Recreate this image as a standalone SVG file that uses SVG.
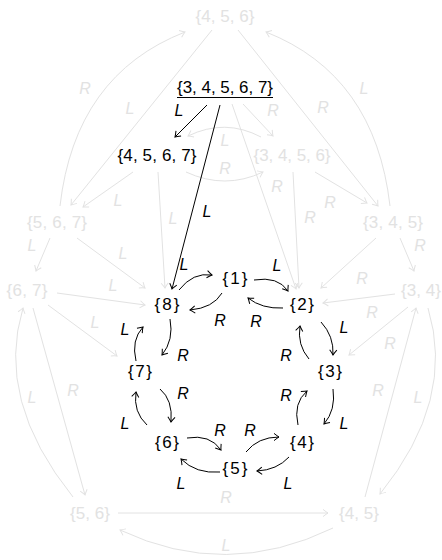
<svg xmlns="http://www.w3.org/2000/svg" width="442" height="560" viewBox="0 0 442 560">
<defs>
<marker id="ab" viewBox="-6 -5 8 10" refX="0" refY="0" markerWidth="8" markerHeight="10" markerUnits="userSpaceOnUse" orient="auto">
<path d="M-5,-3.6 Q-1.5,-0.8 0,0 Q-1.5,0.8 -5,3.6" fill="none" stroke="#000" stroke-width="1"/>
</marker>
<marker id="ag" viewBox="-6 -5 8 10" refX="0" refY="0" markerWidth="8" markerHeight="10" markerUnits="userSpaceOnUse" orient="auto">
<path d="M-5,-3.6 Q-1.5,-0.8 0,0 Q-1.5,0.8 -5,3.6" fill="none" stroke="#e2e2e2" stroke-width="1"/>
</marker>
</defs>
<style>
.n{font-family:"Liberation Sans",Arial,sans-serif;font-size:17px;text-anchor:middle;fill:#000}
.ng{font-family:"Liberation Sans",Arial,sans-serif;font-size:17px;text-anchor:middle;fill:#e2e2e2}
.l{font-family:"Liberation Sans",Arial,sans-serif;font-size:16px;font-style:italic;text-anchor:middle;fill:#000}
.lg{font-family:"Liberation Sans",Arial,sans-serif;font-size:16px;font-style:italic;text-anchor:middle;fill:#e2e2e2}
.e{fill:none;stroke:#000;stroke-width:1;marker-end:url(#ab)}
.eg{fill:none;stroke:#e2e2e2;stroke-width:1;marker-end:url(#ag)}
</style>
<rect width="442" height="560" fill="#fff"/>
<g id="connectors">
<path class="eg" d="M60,206 Q75,75 185,32"/>
<path class="eg" d="M212,30 L71,205"/>
<path class="eg" d="M238,30 L378,206"/>
<path class="eg" d="M390,206 Q375,75 266,32"/>
<path class="eg" d="M243,104 L273,136"/>
<path class="eg" d="M232,104 L296,289"/>
<path class="eg" d="M261,137 Q225,118 188,136"/>
<path class="eg" d="M186,172 Q225,190 263,172"/>
<path class="eg" d="M158,172 L165,288"/>
<path class="eg" d="M293,172 L299,288"/>
<path class="eg" d="M133,172 L83,207"/>
<path class="eg" d="M315,172 L367,203"/>
<path class="eg" d="M50,238 L36,271"/>
<path class="eg" d="M400,238 L414,271"/>
<path class="eg" d="M77,238 L145,288"/>
<path class="eg" d="M376,238 L321,288"/>
<path class="eg" d="M57,293 L145,305"/>
<path class="eg" d="M395,294 L323,303"/>
<path class="eg" d="M48,305 L117,356"/>
<path class="eg" d="M408,307 L349,355"/>
<path class="eg" d="M33,308 L85,495"/>
<path class="eg" d="M73,497 Q-5,400 23,308"/>
<path class="eg" d="M118,513 L328,513"/>
<path class="eg" d="M333,528 Q226,580 120,530"/>
<path class="eg" d="M428,308 Q456,400 380,494"/>
<path class="eg" d="M365,497 L416,308"/>
<path class="e" d="M207,105 L175,137"/>
<path class="e" d="M220,105 L172,289"/>
<path class="e" d="M179,290 Q193,272 212,275"/>
<path class="e" d="M222,293 Q213,308 190,310"/>
<path class="e" d="M254,280 Q278,276 288,291"/>
<path class="e" d="M283,308 Q262,309 248,298"/>
<path class="e" d="M170,319 Q174,340 162,355"/>
<path class="e" d="M136,361 Q131,340 143,327"/>
<path class="e" d="M321,322 Q334,336 333,355"/>
<path class="e" d="M309,359 Q297,345 300,326"/>
<path class="e" d="M160,389 Q173,400 171,422"/>
<path class="e" d="M147,425 Q133,412 136,392"/>
<path class="e" d="M187,438 Q210,434 221,450"/>
<path class="e" d="M220,472 Q196,474 181,459"/>
<path class="e" d="M246,452 Q258,437 279,437"/>
<path class="e" d="M289,457 Q277,470 257,471"/>
<path class="e" d="M298,425 Q293,403 307,391"/>
<path class="e" d="M333,389 Q336,410 324,424"/>
</g>
<g id="edge-labels">
<text class="lg" x="85" y="94">R</text>
<text class="lg" x="130" y="114">L</text>
<text class="lg" x="364" y="94">L</text>
<text class="lg" x="323" y="113">R</text>
<text class="lg" x="273" y="116">R</text>
<text class="lg" x="225" y="146">L</text>
<text class="lg" x="225" y="174">R</text>
<text class="lg" x="118" y="206">L</text>
<text class="lg" x="173" y="224">L</text>
<text class="lg" x="277" y="192">R</text>
<text class="lg" x="330" y="208">R</text>
<text class="lg" x="310" y="223">R</text>
<text class="lg" x="32" y="251">L</text>
<text class="lg" x="123" y="259">L</text>
<text class="lg" x="420" y="251">R</text>
<text class="lg" x="362" y="284">R</text>
<text class="lg" x="113" y="291">L</text>
<text class="lg" x="372" y="318">R</text>
<text class="lg" x="95" y="328">L</text>
<text class="lg" x="390" y="349">R</text>
<text class="lg" x="73" y="396">R</text>
<text class="lg" x="32" y="403">L</text>
<text class="lg" x="378" y="396">R</text>
<text class="lg" x="418" y="403">L</text>
<text class="lg" x="226" y="503">R</text>
<text class="lg" x="226" y="551">L</text>
<text class="l" x="179" y="116">L</text>
<text class="l" x="207" y="217">L</text>
<text class="l" x="184" y="270">L</text>
<text class="l" x="220" y="326">R</text>
<text class="l" x="277" y="271">L</text>
<text class="l" x="256" y="327">R</text>
<text class="l" x="183" y="361">R</text>
<text class="l" x="125" y="335">L</text>
<text class="l" x="344" y="333">L</text>
<text class="l" x="286" y="361">R</text>
<text class="l" x="183" y="399">R</text>
<text class="l" x="125" y="429">L</text>
<text class="l" x="220" y="436">R</text>
<text class="l" x="181" y="489">L</text>
<text class="l" x="250" y="436">R</text>
<text class="l" x="288" y="489">L</text>
<text class="l" x="286" y="401">R</text>
<text class="l" x="344" y="429">L</text>
</g>
<g id="n34567"><text class="n" x="225" y="93" textLength="96" lengthAdjust="spacingAndGlyphs">{3, 4, 5, 6, 7}</text><line x1="177" y1="97.5" x2="273" y2="97.5" stroke="#000" stroke-width="1"/></g>
<g id="n4567"><text class="n" x="157" y="161" textLength="79" lengthAdjust="spacing">{4, 5, 6, 7}</text></g>
<g id="n456"><text class="ng" x="225" y="22" textLength="59" lengthAdjust="spacing">{4, 5, 6}</text></g>
<g id="n3456"><text class="ng" x="292" y="161" textLength="77" lengthAdjust="spacing">{3, 4, 5, 6}</text></g>
<g id="n567"><text class="ng" x="57" y="228" textLength="60" lengthAdjust="spacing">{5, 6, 7}</text></g>
<g id="n345"><text class="ng" x="393" y="228" textLength="60" lengthAdjust="spacing">{3, 4, 5}</text></g>
<g id="n67"><text class="ng" x="27" y="296" textLength="41" lengthAdjust="spacing">{6, 7}</text></g>
<g id="n34"><text class="ng" x="421" y="296" textLength="40" lengthAdjust="spacing">{3, 4}</text></g>
<g id="n56"><text class="ng" x="90" y="519" textLength="40" lengthAdjust="spacing">{5, 6}</text></g>
<g id="n45"><text class="ng" x="359" y="519" textLength="40" lengthAdjust="spacing">{4, 5}</text></g>
<g id="n8"><text class="n" x="167" y="310" textLength="25" lengthAdjust="spacing">{8}</text></g>
<g id="n1"><text class="n" x="235" y="284" textLength="25" lengthAdjust="spacing">{1}</text></g>
<g id="n2"><text class="n" x="302" y="310" textLength="24" lengthAdjust="spacing">{2}</text></g>
<g id="n7"><text class="n" x="140" y="377" textLength="24" lengthAdjust="spacing">{7}</text></g>
<g id="n3"><text class="n" x="330" y="377" textLength="24" lengthAdjust="spacing">{3}</text></g>
<g id="n6"><text class="n" x="167" y="448" textLength="24" lengthAdjust="spacing">{6}</text></g>
<g id="n5"><text class="n" x="235" y="474" textLength="25" lengthAdjust="spacing">{5}</text></g>
<g id="n4"><text class="n" x="302" y="448" textLength="24" lengthAdjust="spacing">{4}</text></g>
</svg>
